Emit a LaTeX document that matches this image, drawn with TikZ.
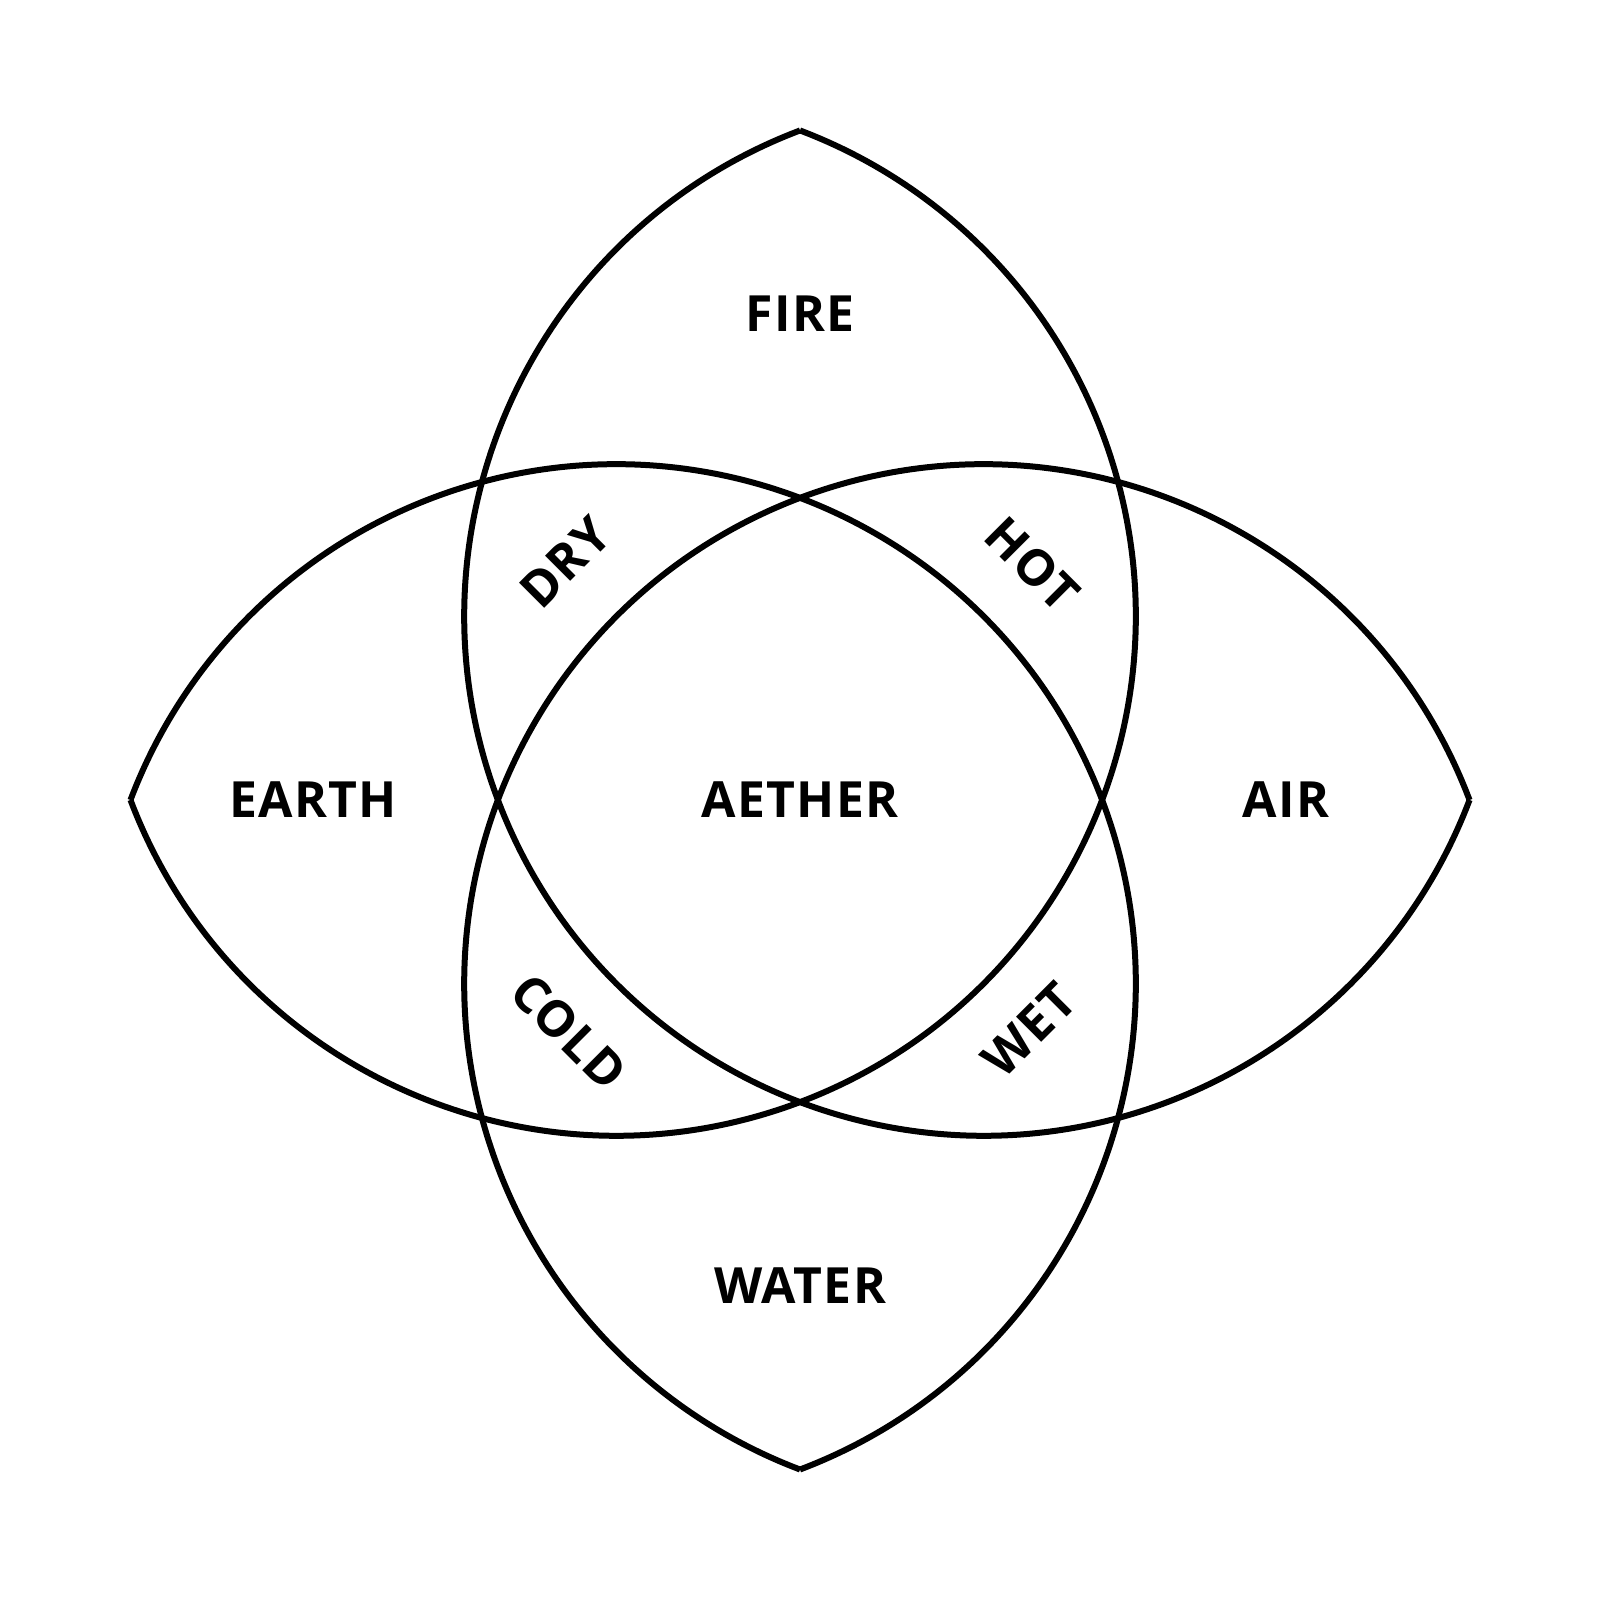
\documentclass[tikz,border=0pt]{standalone}
\usepackage{fontspec}
\newfontfamily\lblfont[LetterSpace=2.5]{Open Sans}
\tikzset{
  ring/.style={draw=black, line width=0.06cm},
  lbl/.style={font=\lblfont\bfseries\fontsize{14.2pt}{17pt}\selectfont, inner sep=0pt, text=black}
}
\begin{document}
\begin{tikzpicture}
\useasboundingbox[fill=white] (0,0) rectangle (16,16);
\def\R{5.194}
\coordinate (cA) at (6.163,9.837);
\coordinate (cB) at (9.837,9.837);
\coordinate (cC) at (6.163,6.163);
\coordinate (cD) at (9.837,6.163);
\draw[ring] ([shift={(200.71:\R)}]cA) arc[start angle=200.71, end angle=429.29, radius=\R];
\draw[ring] ([shift={(110.71:\R)}]cB) arc[start angle=110.71, end angle=339.29, radius=\R];
\draw[ring] ([shift={(-69.29:\R)}]cC) arc[start angle=-69.29, end angle=159.29, radius=\R];
\draw[ring] ([shift={(20.71:\R)}]cD) arc[start angle=20.71, end angle=249.29, radius=\R];
\node[lbl] (fire) at (8,12.86) {FIRE};
\node[lbl] (water) at (8,3.14) {WATER};
\node[lbl] (earth) at (3.13,8) {EARTH};
\node[lbl] (air) at (12.86,8) {AIR};
\node[lbl] (aether) at (8,8) {AETHER};
\node[lbl, rotate=45] (dry) at (5.65,10.38) {DRY};
\node[lbl, rotate=-45] (hot) at (10.32,10.36) {HOT};
\node[lbl, rotate=-45] (cold) at (5.69,5.68) {COLD};
\node[lbl, rotate=45] (wet) at (10.29,5.70) {WET};
\end{tikzpicture}
\end{document}
